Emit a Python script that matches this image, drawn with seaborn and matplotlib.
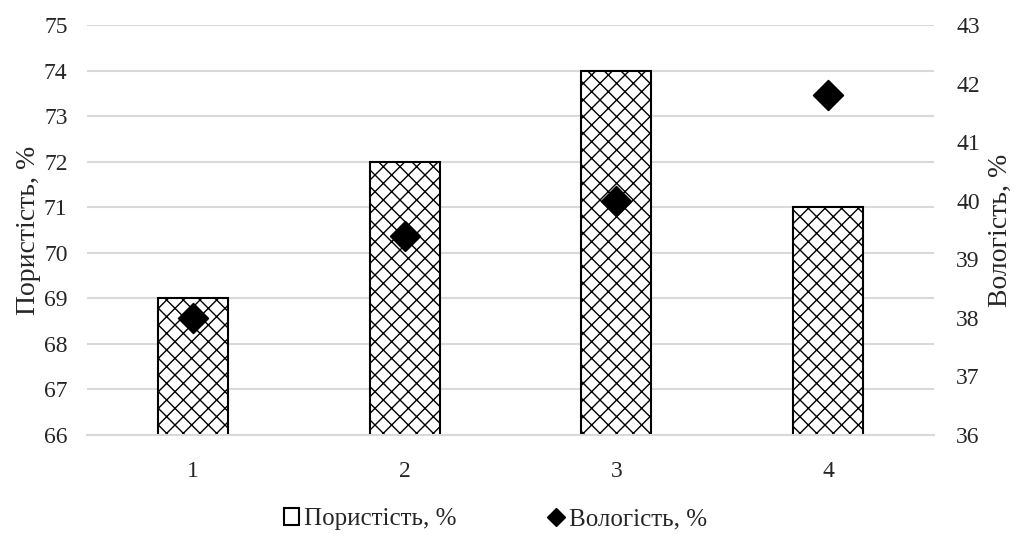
import matplotlib
matplotlib.use("Agg")
import matplotlib.pyplot as plt
import seaborn as sns
import pandas as pd
from matplotlib.lines import Line2D
from matplotlib.patches import Patch

# data
samples = ["1", "2", "3", "4"]
porosity = [69, 72, 74, 71]
moisture = [38.0, 39.4, 40.0, 41.8]

sns.set_theme(style="white")
plt.rcParams['font.family'] = ['Liberation Serif', 'DejaVu Serif']
plt.rcParams['hatch.linewidth'] = 1.0

df = pd.DataFrame({"sample": samples, "porosity": porosity, "moisture": moisture})

fig = plt.figure(figsize=(10.15, 5.34), dpi=100)
ax = fig.add_axes([0.0857, 0.1854, 0.8345, 0.7676])

sns.barplot(data=df, x="sample", y="porosity", ax=ax, width=0.33,
            color="white", edgecolor="black", linewidth=1.5, hatch="xx", zorder=2)
ax.set_ylim(66, 75)
ax.set_xlim(-0.5, 3.5)
ax.set_yticks(range(66, 76))
ax.yaxis.grid(True, color="#d9d9d9", linewidth=1.5, zorder=0)
ax.set_axisbelow(True)
ax.set_xlabel("")
ax.set_ylabel("Пористість, %", fontsize=20, labelpad=2)
ax.tick_params(axis="y", labelsize=17, length=0, pad=14)
ax.tick_params(axis="x", labelsize=17, length=0, pad=19)
for s in ax.spines.values():
    s.set_visible(False)
ax.spines["bottom"].set_visible(True)
ax.spines["bottom"].set_color("#d9d9d9")
ax.spines["bottom"].set_linewidth(1.5)

ax2 = ax.twinx()
sns.scatterplot(data=df, x="sample", y="moisture", ax=ax2, marker="D", s=230,
                color="black", edgecolor="black", zorder=3)
ax2.set_ylim(36, 43)
ax2.set_yticks(range(36, 44))
ax2.set_ylabel("Вологість, %", fontsize=20, labelpad=6)
ax2.tick_params(axis="y", labelsize=17, length=0, pad=16)
for s in ax2.spines.values():
    s.set_visible(False)

handles = [Patch(facecolor="white", edgecolor="black", linewidth=1.5),
           Line2D([], [], marker="D", color="black", linestyle="", markersize=9)]
fig.legend(handles, ["Пористість, %", "Вологість, %"], loc="center",
           bbox_to_anchor=(0.488, 0.028), ncol=2, frameon=False, fontsize=18,
           handlelength=0.6, handletextpad=0.2, columnspacing=3.7)

fig.savefig("out.png", dpi=100)
